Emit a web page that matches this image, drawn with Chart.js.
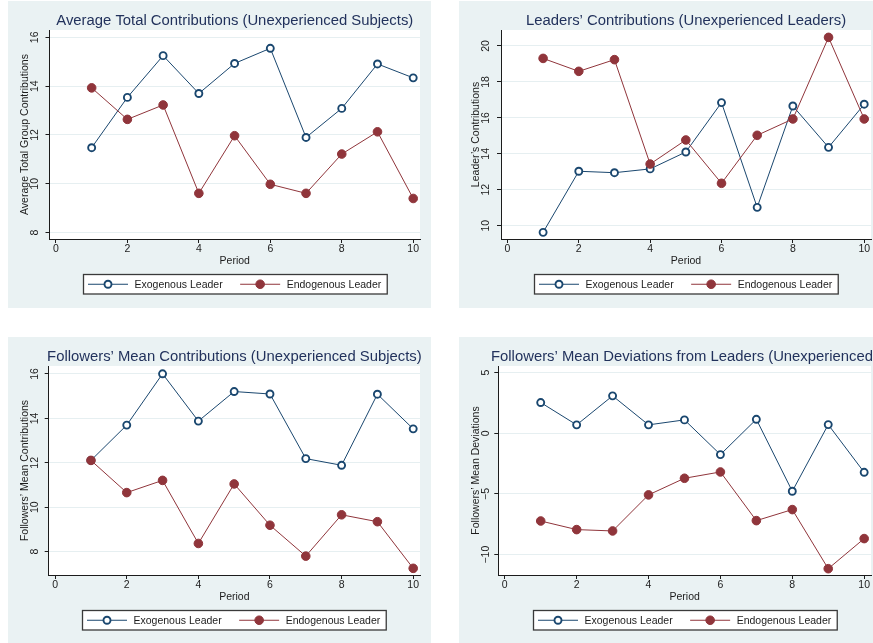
<!DOCTYPE html>
<html><head><meta charset="utf-8">
<script src="https://cdn.jsdelivr.net/npm/chart.js@4"></script>
<style>
html,body{margin:0;padding:0;background:#fff;overflow:hidden;}
#wrap{position:relative;width:873px;height:643px;overflow:hidden;background:#fff;}
canvas{position:absolute;}
</style></head><body>
<div id="wrap">
<canvas id="c1" width="423" height="307" style="left:8px;top:1px"></canvas>
<canvas id="c2" width="423" height="307" style="left:459px;top:1px"></canvas>
<canvas id="c3" width="423" height="307" style="left:8px;top:337px"></canvas>
<canvas id="c4" width="423" height="307" style="left:459px;top:337px"></canvas>
</div>
<script>
// ---------------- data ----------------
const periods = [1,2,3,4,5,6,7,8,9,10];
const seriesNames = ['Exogenous Leader','Endogenous Leader'];
const xTicks = [0,2,4,6,8,10];

const totalExo  = [11.48,13.54,15.25,13.70,14.93,15.55,11.90,13.09,14.91,14.34];
const totalEndo = [13.93,12.64,13.23,9.61,11.97,9.98,9.61,11.22,12.13,9.40];
const totalTicks = [8,10,12,14,16];

const leaderExo  = [9.63,13.03,12.95,13.16,14.10,16.85,11.02,16.66,14.36,16.76];
const leaderEndo = [19.31,18.59,19.24,13.43,14.77,12.36,15.03,15.94,20.48,15.94];
const leaderTicks = [10,12,14,16,18,20];

const followerExo  = [12.11,13.70,16.01,13.88,15.21,15.10,12.19,11.89,15.09,13.53];
const followerEndo = [12.11,10.66,11.21,8.37,11.05,9.19,7.80,9.66,9.35,7.25];
const followerTicks = [8,10,12,14,16];

const devExo  = [2.53,0.69,3.08,0.69,1.10,-1.76,1.15,-4.78,0.71,-3.22];
const devEndo = [-7.23,-7.94,-8.05,-5.08,-3.71,-3.19,-7.20,-6.29,-11.16,-8.68];
const devTicks = [-10,-5,0,5];

// ---------------- styling ----------------
const FONT = '"Liberation Sans", Arial, Helvetica, sans-serif';
const BG = '#eaf2f3';
const NAVY = '#1a476f';
const MAROON = '#90353b';
const TXT = '#1c1c1c';

function fmt(v){ return v < 0 ? '\u2212' + Math.abs(v) : String(v); }
function measure(text, size){
  const c = document.createElement('canvas').getContext('2d');
  c.font = size + 'px ' + FONT;
  return c.measureText(text).width;
}

const panelPlugin = {
  id: 'panel',
  beforeDraw(chart){
    const ctx = chart.ctx, a = chart.chartArea;
    ctx.save();
    ctx.fillStyle = BG; ctx.fillRect(0,0,chart.width,chart.height);
    ctx.fillStyle = '#fff'; ctx.fillRect(a.left, a.top, a.right-a.left, a.bottom-a.top);
    ctx.restore();
  },
  afterDraw(chart, args, opts){
    const ctx = chart.ctx, a = chart.chartArea;
    ctx.save();
    // title
    ctx.font = '14.85px ' + FONT;
    ctx.fillStyle = '#22325c';
    ctx.textBaseline = 'alphabetic';
    if (opts.titleLeft != null) { ctx.textAlign = 'left'; ctx.fillText(opts.title, opts.titleLeft, 23.5); }
    else { ctx.textAlign = 'center'; ctx.fillText(opts.title, (a.left + a.right)/2, 23.5); }
    // legend
    ctx.font = '10.5px ' + FONT;
    const ds = chart.data.datasets;
    const w = ds.map(d => ctx.measureText(d.label).width);
    const pad = 4.5, line = 40, gap = 6.5, itemGap = 17.5, padR = 6;
    const total = pad + ds.length*(line+gap) + w.reduce((s,v)=>s+v,0) + itemGap*(ds.length-1) + padR;
    const cx = (a.left + a.right)/2;
    const x0 = Math.round(cx - total/2) + 0.5;
    const top = 273.5, h = 19.5;
    ctx.fillStyle = '#fff'; ctx.fillRect(x0, top, total, h);
    ctx.strokeStyle = '#3a3a3a'; ctx.lineWidth = 1.3; ctx.strokeRect(x0, top, total, h);
    let x = x0 + pad; const my = top + h/2;
    ds.forEach((d, i) => {
      ctx.strokeStyle = d.borderColor; ctx.lineWidth = d.borderWidth;
      ctx.beginPath(); ctx.moveTo(x, my); ctx.lineTo(x + line, my); ctx.stroke();
      ctx.beginPath(); ctx.arc(x + line/2, my, d.pointRadius, 0, Math.PI*2);
      ctx.fillStyle = d.pointBackgroundColor; ctx.fill();
      ctx.lineWidth = d.pointBorderWidth; ctx.strokeStyle = d.pointBorderColor; ctx.stroke();
      x += line + gap;
      ctx.fillStyle = TXT; ctx.textAlign = 'left'; ctx.textBaseline = 'middle';
      ctx.fillText(d.label, x, my + 0.5);
      x += w[i] + itemGap;
    });
    ctx.restore();
  }
};

function makeChart(id, cfg){
  const tickSize = 10.5;
  const tickFont = {family: FONT, size: tickSize};
  const widest = Math.max(...cfg.yTicks.map(v => measure(fmt(v), tickSize)));
  const yPad = cfg.axisLeft - 4 - widest/2 - 27.3;
  const pts = arr => periods.map((p, i) => ({x: p, y: arr[i]}));
  new Chart(document.getElementById(id), {
    type: 'line',
    data: { datasets: [
      { label: seriesNames[0], data: pts(cfg.exo), borderColor: NAVY, borderWidth: 1,
        pointRadius: 3.5, pointBorderWidth: 1.9, pointBackgroundColor: '#fff', pointBorderColor: NAVY,
        fill: false, tension: 0, order: 1 },
      { label: seriesNames[1], data: pts(cfg.endo), borderColor: MAROON, borderWidth: 1,
        pointRadius: 4.3, pointBorderWidth: 1, pointBackgroundColor: MAROON, pointBorderColor: MAROON,
        fill: false, tension: 0, order: 0 }
    ]},
    options: {
      responsive: false, animation: false, devicePixelRatio: 1, events: [],
      layout: { padding: { top: 29, right: 11, bottom: 37, left: 0 } },
      plugins: { legend: { display: false }, tooltip: { enabled: false },
                 panel: { title: cfg.title, titleLeft: cfg.titleLeft } },
      scales: {
        x: { type: 'linear', min: -0.18, max: 10.19,
             afterBuildTicks: s => { s.ticks = xTicks.map(v => ({value: v})); },
             afterFit: s => { s.height = 32; },
             grid: { drawOnChartArea: false, tickLength: 4, tickColor: TXT, tickWidth: 1 },
             border: { color: TXT, width: 1 },
             ticks: { font: tickFont, color: TXT, padding: 0, maxRotation: 0, minRotation: 0, autoSkip: false,
                      callback: v => fmt(v) },
             title: { display: true, text: 'Period', font: tickFont, color: TXT, padding: { top: 0, bottom: 3.7 } } },
        y: { type: 'linear', min: cfg.yMin, max: cfg.yMax,
             afterBuildTicks: s => { s.ticks = cfg.yTicks.map(v => ({value: v})); },
             afterFit: s => { s.width = cfg.axisLeft; },
             grid: { color: '#e6eff1', lineWidth: 1, tickLength: 4, tickColor: TXT, tickWidth: 1 },
             border: { color: TXT, width: 1 },
             ticks: { font: tickFont, color: TXT, minRotation: 90, maxRotation: 90, crossAlign: 'center',
                      padding: yPad, autoSkip: false, callback: v => fmt(v) },
             title: { display: true, text: cfg.yTitle, font: tickFont, color: TXT, padding: { top: 10.7, bottom: 0 } } }
      }
    },
    plugins: [panelPlugin]
  });
}

makeChart('c1', { title: 'Average Total Contributions (Unexperienced Subjects)',
  yTitle: 'Average Total Group Contributions', exo: totalExo, endo: totalEndo,
  yTicks: totalTicks, yMin: 7.74, yMax: 16.3, axisLeft: 41.5 });
makeChart('c2', { title: 'Leaders\u2019 Contributions (Unexperienced Leaders)',
  yTitle: 'Leader\u2019s Contributions', exo: leaderExo, endo: leaderEndo,
  yTicks: leaderTicks, yMin: 9.26, yMax: 20.89, axisLeft: 42 });
makeChart('c3', { title: 'Followers\u2019 Mean Contributions (Unexperienced Subjects)',
  yTitle: 'Followers\u2019 Mean Contributions', exo: followerExo, endo: followerEndo,
  yTicks: followerTicks, yMin: 6.95, yMax: 16.36, axisLeft: 40.7 });
makeChart('c4', { title: 'Followers\u2019 Mean Deviations from Leaders (Unexperienced Subjects)', titleLeft: 32,
  yTitle: 'Followers\u2019 Mean Deviations', exo: devExo, endo: devEndo,
  yTicks: devTicks, yMin: -11.68, yMax: 5.54, axisLeft: 39.3 });
</script>
</body></html>
